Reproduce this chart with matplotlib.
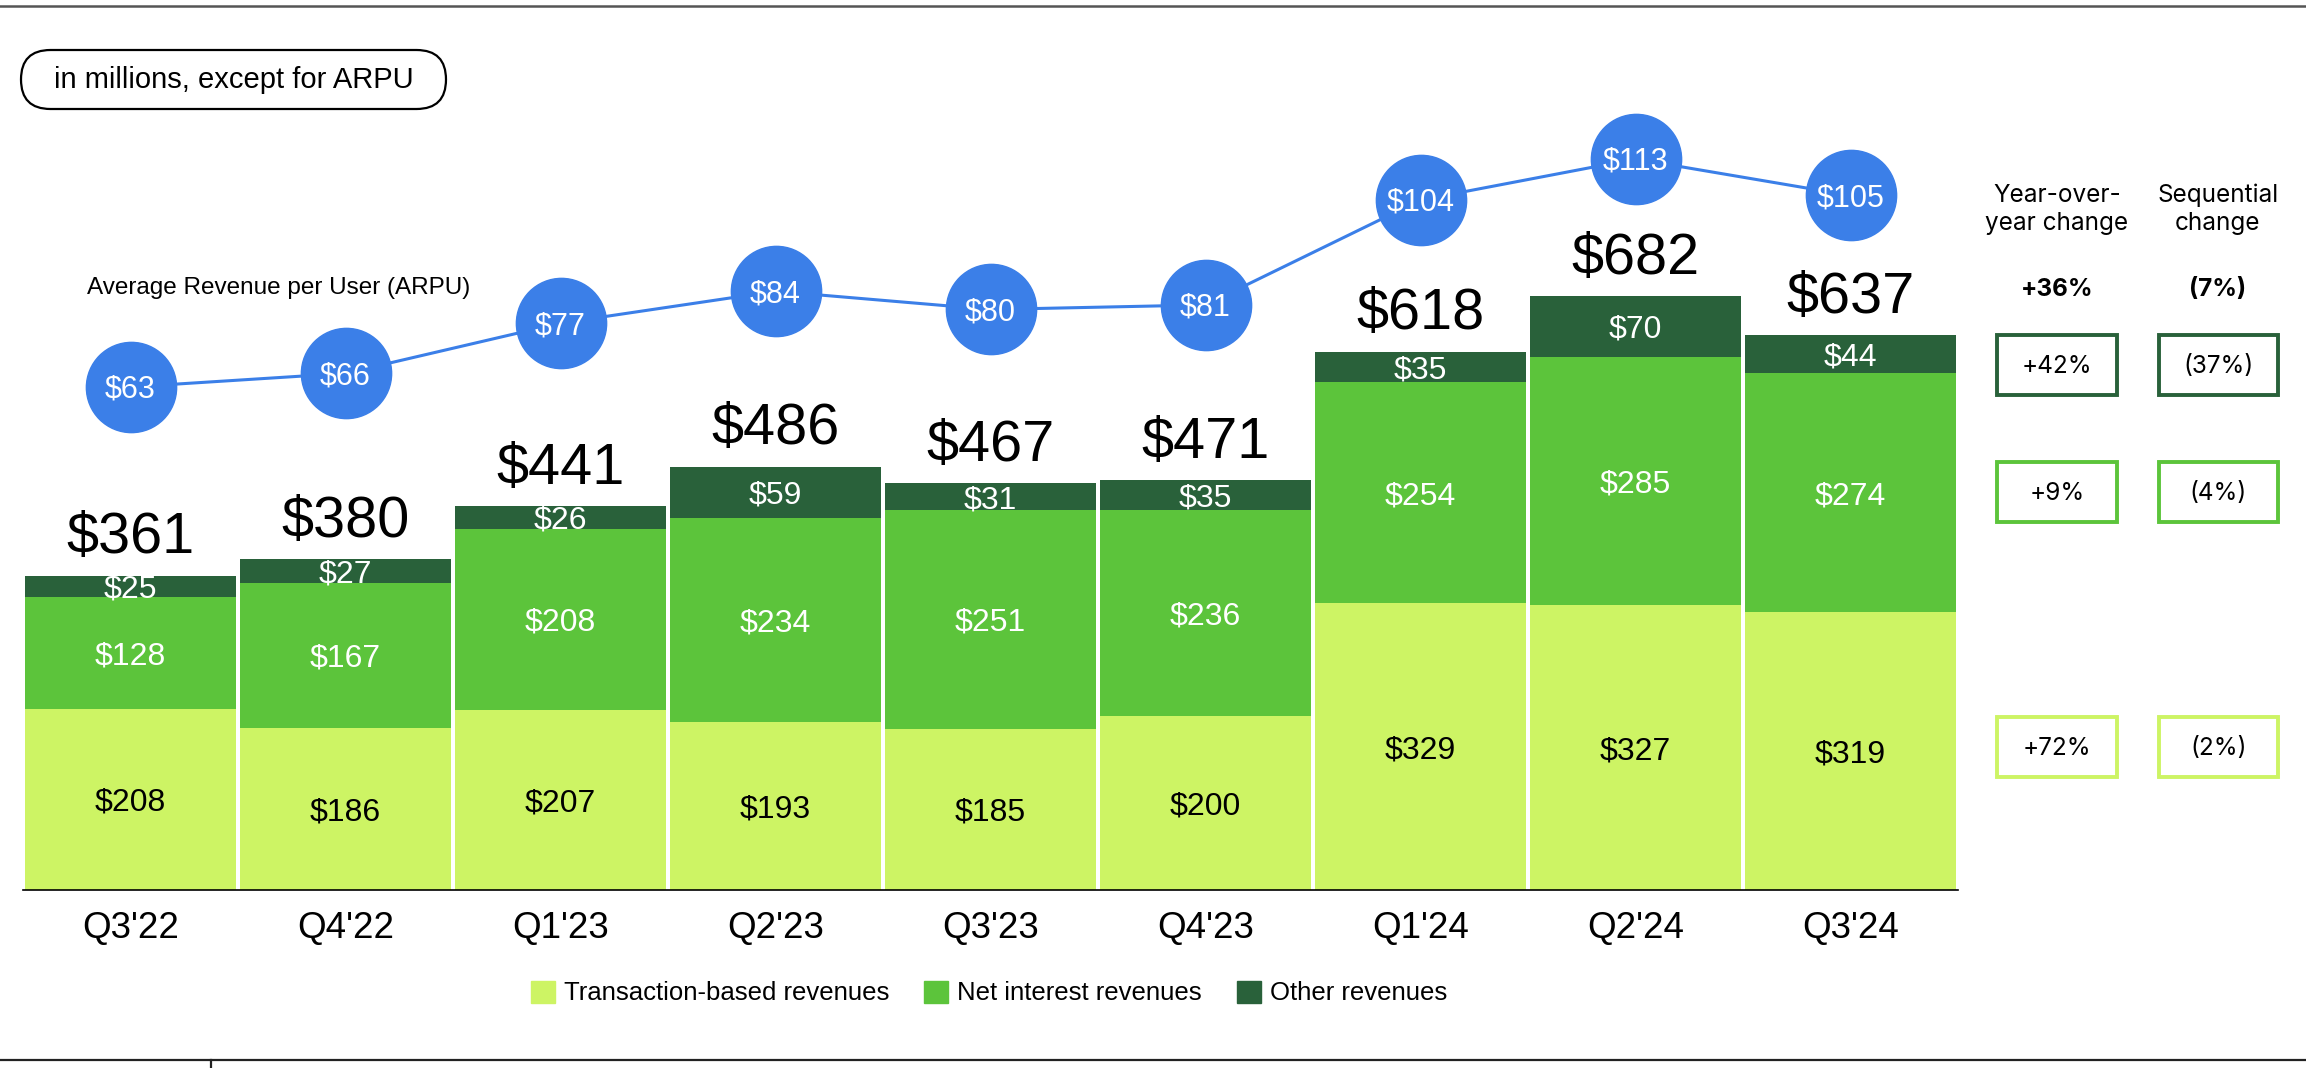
import numpy as np
import matplotlib
matplotlib.use("Agg")
import matplotlib.pyplot as plt
from matplotlib.patches import Rectangle, Patch, FancyBboxPatch
from matplotlib.lines import Line2D
from matplotlib.transforms import IdentityTransform

plt.rcParams['font.family'] = ['Liberation Sans', 'DejaVu Sans']

# data
quarters = ["Q3'22", "Q4'22", "Q1'23", "Q2'23", "Q3'23", "Q4'23", "Q1'24", "Q2'24", "Q3'24"]
transaction = [208, 186, 207, 193, 185, 200, 329, 327, 319]
net_interest = [128, 167, 208, 234, 251, 236, 254, 285, 274]
other = [25, 27, 26, 59, 31, 35, 35, 70, 44]
arpu = [63, 66, 77, 84, 80, 81, 104, 113, 105]

yoy_total = "+36%"
seq_total = "(7%)"
yoy_change = ["+42%", "+9%", "+72%"]   # other, net interest, transaction
seq_change = ["(37%)", "(4%)", "(2%)"]

c_light = "#CDF464"
c_mid = "#5CC43B"
c_dark = "#29613A"
c_blue = "#3B7FE8"

W, H = 2306, 1068


def fx(px):
    return px / W


def fy(py):
    return 1 - py / H


fig = plt.figure(figsize=(W / 100, H / 100), dpi=100)
ax = fig.add_axes([fx(23), fy(890), (1958 - 23) / W, 800 / H])

x = np.arange(len(quarters))
trans = np.array(transaction)
net = np.array(net_interest)
oth = np.array(other)
tot = trans + net + oth

bw = 0.98
ax.bar(x, trans, bw, color=c_light, zorder=2)
ax.bar(x, net, bw, bottom=trans, color=c_mid, zorder=2)
ax.bar(x, oth, bw, bottom=trans + net, color=c_dark, zorder=2)

ax.set_xlim(-0.5, len(quarters) - 0.5)
ax.set_ylim(0, 800 / 0.871)

for s in ['top', 'right', 'left']:
    ax.spines[s].set_visible(False)
ax.spines['bottom'].set_linewidth(1.2)
ax.set_yticks([])
ax.set_xticks(x, quarters)
ax.tick_params(axis='x', length=0, pad=15, labelsize=26.5)


def lab(axis, xi, yi, s, fs, color, dy=0):
    # vertically center the cap height on yi
    axis.annotate(s, (xi, yi), xytext=(0, dy - 0.358 * fs), textcoords='offset points',
                  ha='center', va='baseline', fontsize=fs, color=color, zorder=5)


for i in range(len(x)):
    lab(ax, x[i], trans[i] / 2, f"${trans[i]}", 23, 'black')
    lab(ax, x[i], trans[i] + net[i] / 2, f"${net[i]}", 23, 'white')
    lab(ax, x[i], trans[i] + net[i] + oth[i] / 2, f"${oth[i]}", 23, 'white')
    ax.annotate(f"${tot[i]}", (x[i], tot[i]), xytext=(0, 16), textcoords='offset points',
                ha='center', va='baseline', fontsize=41.5, color='black')

# ARPU line on a twin axis
ax2 = ax.twinx()
lo = 63 - 503 / 4.56
ax2.set_ylim(lo, lo + 800 / 4.56)
ax2.plot(x, arpu, color=c_blue, lw=2.2, marker='o', ms=65, mfc=c_blue, mec=c_blue, zorder=3)
for s in ax2.spines.values():
    s.set_visible(False)
ax2.set_yticks([])
for i in range(len(x)):
    lab(ax2, x[i], arpu[i], f"${arpu[i]}", 22, 'white')

fig.text(fx(87), fy(294), "Average Revenue per User (ARPU)", fontsize=17.5, ha='left', va='baseline')

# "in millions" pill (drawn in pixel units)
pill = FancyBboxPatch((21, H - 109), 425, 59, boxstyle="round,pad=0,rounding_size=29.5",
                      transform=IdentityTransform(), fc='white', ec='black', lw=1.6)
fig.add_artist(pill)
fig.text(fx(234), fy(88), "in millions, except for ARPU", fontsize=21, ha='center', va='baseline')

# right-hand change columns
rfont = ['Inter', 'DejaVu Sans']
cx1, cx2 = 2057, 2218
fs_r = 17.5
fig.text(fx(cx1), fy(202), "Year-over-", fontsize=fs_r, ha='center', va='baseline', family=rfont)
fig.text(fx(cx1), fy(230), "year change", fontsize=fs_r, ha='center', va='baseline', family=rfont)
fig.text(fx(cx2), fy(202), "Sequential", fontsize=fs_r, ha='center', va='baseline', family=rfont)
fig.text(fx(cx2), fy(230), "change", fontsize=fs_r, ha='center', va='baseline', family=rfont)
fig.text(fx(cx1), fy(296), yoy_total, fontsize=fs_r, ha='center', va='baseline', family=rfont, fontweight='bold')
fig.text(fx(cx2), fy(296), seq_total, fontsize=fs_r, ha='center', va='baseline', family=rfont, fontweight='bold')

rows = [(335, 395, c_dark), (462, 522, c_mid), (717, 777, c_light)]
for k, (top, bot, col) in enumerate(rows):
    for (l, r), txt in (((1997, 2117), yoy_change[k]), ((2159, 2278), seq_change[k])):
        fig.add_artist(Rectangle((fx(l), fy(bot)), (r - l) / W, (bot - top) / H,
                                 transform=fig.transFigure, fill=False, ec=col, lw=2.8))
        fig.text(fx((l + r) / 2), fy((top + bot) / 2 + 8), txt, fontsize=fs_r,
                 ha='center', va='baseline', family=rfont)

# legend
handles = [Patch(color=c_light, label="Transaction-based revenues"),
           Patch(color=c_mid, label="Net interest revenues"),
           Patch(color=c_dark, label="Other revenues")]
fig.legend(handles=handles, loc='center', bbox_to_anchor=(fx(989), fy(993)), ncol=3,
           frameon=False, fontsize=18.5, handlelength=0.95, handleheight=0.95,
           handletextpad=0.35, columnspacing=1.35)

# frame lines
fig.add_artist(Line2D([0, 1], [fy(6), fy(6)], transform=fig.transFigure, color='#555555', lw=1.8))
fig.add_artist(Line2D([0, 1], [fy(1060), fy(1060)], transform=fig.transFigure, color='#222222', lw=1.6))
fig.add_artist(Line2D([fx(211), fx(211)], [fy(1060), 0], transform=fig.transFigure, color='#222222', lw=1.6))

fig.savefig("out.png", dpi=100, facecolor='white')
